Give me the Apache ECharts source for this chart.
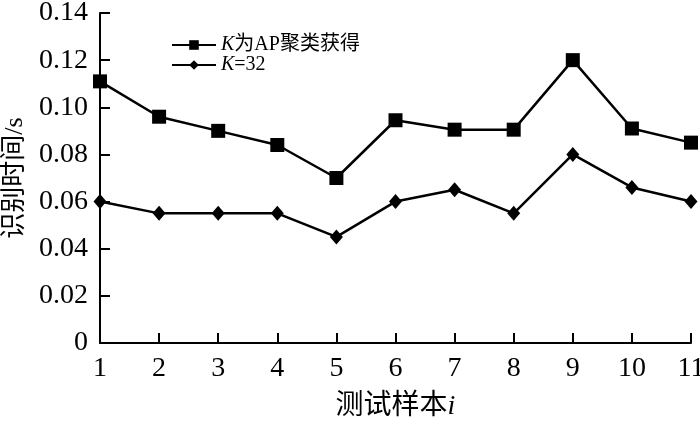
<!DOCTYPE html>
<html>
<head>
<meta charset="utf-8">
<script src="https://cdn.jsdelivr.net/npm/echarts@6/dist/echarts.min.js"></script>
<style>
  html, body { margin: 0; padding: 0; background: #fff; }
  #chart { width: 700px; height: 425px; }
</style>
</head>
<body>
<div id="chart"></div>
<script>
// 测试样本
const samples = ['1', '2', '3', '4', '5', '6', '7', '8', '9', '10', '11'];
// K为AP聚类获得
const apTimes = [0.111, 0.096, 0.090, 0.084, 0.070, 0.0945, 0.0905, 0.0905, 0.120, 0.091, 0.085];
// K=32
const k32Times = [0.060, 0.055, 0.055, 0.055, 0.045, 0.060, 0.065, 0.055, 0.080, 0.066, 0.060];
const yTicks = { min: 0, max: 0.14, interval: 0.02 };

const serif = '"Liberation Serif", "Noto Sans CJK SC", serif';

const chart = echarts.init(document.getElementById('chart'));

const option = {
  animation: false,
  grid: { left: 100, right: 9, top: 13, bottom: 82, outerBoundsMode: 'none' },
  legend: {
    orient: 'vertical',
    left: 166,
    top: 30,
    itemWidth: 44,
    itemHeight: 12,
    itemGap: 0,
    data: ['ap', 'k32'],
    formatter: name => name === 'ap' ? '{i|K}为AP聚类获得' : '{i|K}=32',
    textStyle: {
      fontFamily: serif,
      fontSize: 20,
      lineHeight: 18,
      color: '#000',
      rich: {
        i: { fontStyle: 'italic', fontFamily: serif, fontSize: 20, color: '#000' }
      }
    }
  },
  xAxis: {
    type: 'category',
    data: samples,
    boundaryGap: false,
    name: '测试样本{i|i}',
    nameLocation: 'middle',
    nameGap: 50,
    nameTextStyle: {
      fontFamily: serif, fontSize: 28, color: '#000',
      rich: { i: { fontStyle: 'italic', fontFamily: serif, fontSize: 28, color: '#000' } }
    },
    axisLine: { lineStyle: { color: '#000', width: 2 } },
    axisTick: { inside: true, length: 10, lineStyle: { color: '#000', width: 2 } },
    axisLabel: { fontFamily: serif, fontSize: 28, color: '#000', margin: 12 },
    splitLine: { show: false }
  },
  yAxis: {
    type: 'value',
    min: yTicks.min,
    max: yTicks.max,
    interval: yTicks.interval,
    name: '识别时间/s',
    nameLocation: 'middle',
    nameGap: 72,
    nameTextStyle: { fontFamily: serif, fontSize: 26, color: '#000' },
    axisLine: { show: true, lineStyle: { color: '#000', width: 2 } },
    axisTick: { show: true, inside: true, length: 10, lineStyle: { color: '#000', width: 2 } },
    axisLabel: {
      fontFamily: serif, fontSize: 28, color: '#000', margin: 12,
      formatter: v => v === 0 ? '0' : v.toFixed(2)
    },
    splitLine: { show: false }
  },
  series: [
    {
      name: 'ap',
      type: 'line',
      data: apTimes,
      symbol: 'rect',
      symbolSize: 14,
      lineStyle: { color: '#000', width: 2.5 },
      itemStyle: { color: '#000' }
    },
    {
      name: 'k32',
      type: 'line',
      data: k32Times,
      symbol: 'diamond',
      symbolSize: [13, 15],
      lineStyle: { color: '#000', width: 2.5 },
      itemStyle: { color: '#000' }
    }
  ]
};

chart.setOption(option);
</script>
</body>
</html>
